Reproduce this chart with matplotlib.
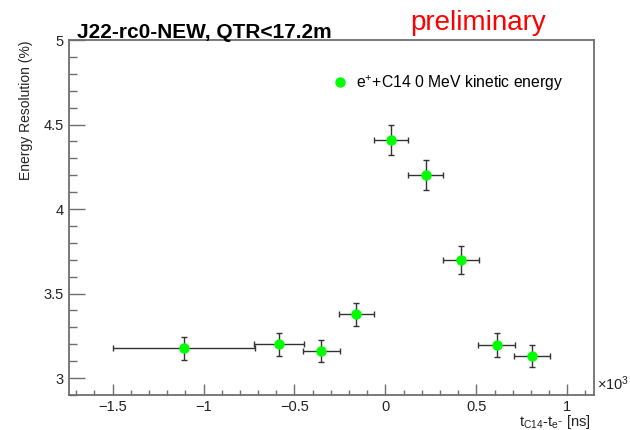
import matplotlib
matplotlib.use("Agg")
import matplotlib.pyplot as plt
from matplotlib.lines import Line2D
from matplotlib.ticker import MultipleLocator, FuncFormatter

plt.rcParams['font.family'] = ['Liberation Sans', 'DejaVu Sans']
plt.rcParams['mathtext.fontset'] = 'custom'
plt.rcParams['mathtext.rm'] = 'Liberation Sans'
plt.rcParams['mathtext.it'] = 'Liberation Sans:italic'
plt.rcParams['mathtext.bf'] = 'Liberation Sans:bold'

# time difference bins (x10^3 ns) and energy resolution (%)
t_diff = [-1.108, -0.585, -0.352, -0.161, 0.029, 0.221, 0.415, 0.611, 0.807]
t_err = [0.39, 0.135, 0.10, 0.097, 0.094, 0.098, 0.10, 0.10, 0.10]
resolution = [3.176, 3.199, 3.160, 3.377, 4.408, 4.201, 3.698, 3.193, 3.130]
res_err = [0.067, 0.069, 0.066, 0.070, 0.090, 0.089, 0.082, 0.071, 0.066]

title = "J22-rc0-NEW, QTR<17.2m"
legend_label = "e$^{+}$+C14 0 MeV kinetic energy"

fig = plt.figure(figsize=(6.3, 4.3), dpi=100)
ax = fig.add_axes([69 / 630, 1 - 395 / 430, 525 / 630, 355 / 430])

ax.errorbar(t_diff, resolution, xerr=t_err, yerr=res_err, fmt='none',
            ecolor='#333333', elinewidth=1.0, capsize=2.2, capthick=1.0, zorder=2)
ax.plot(t_diff, resolution, 'o', color='#00ff00', markersize=6.5, zorder=3)

ax.set_xlim(-1.74, 1.147)
ax.set_ylim(2.9, 5.0)

frame_col = '#6e6e6e'
for side in ['left', 'bottom', 'right', 'top']:
    ax.spines[side].set_color(frame_col)
    ax.spines[side].set_linewidth(1.3)

fmt = FuncFormatter(lambda v, p: ('%g' % v).replace('-', '\u2212'))
ax.xaxis.set_major_locator(MultipleLocator(0.5))
ax.xaxis.set_minor_locator(MultipleLocator(0.1))
ax.yaxis.set_major_locator(MultipleLocator(0.5))
ax.yaxis.set_minor_locator(MultipleLocator(0.1))
ax.xaxis.set_major_formatter(fmt)
ax.yaxis.set_major_formatter(fmt)

ax.tick_params(axis='x', which='major', direction='in', length=7.6, width=1.0,
               color=frame_col, labelsize=10.5, labelcolor='#222222', pad=3.5)
ax.tick_params(axis='x', which='minor', direction='in', length=3.8, width=1.0, color=frame_col)
ax.tick_params(axis='y', which='major', direction='in', length=11.3, width=1.0,
               color=frame_col, labelsize=10.5, labelcolor='#222222', pad=4)
ax.tick_params(axis='y', which='minor', direction='in', length=5.6, width=1.0, color=frame_col)

ax.set_ylabel("Energy Resolution (%)", fontsize=10, color='#222222', loc='top', labelpad=7)

fig.text(591 / 630, 1 - 426 / 430, "t$_{\\mathregular{C14}}$-t$_{\\mathregular{e^{-}}}$ [ns]",
         fontsize=10.5, color='#222222', ha='right', va='baseline')
fig.text(597 / 630, 1 - 390 / 430, "\u00d710$^{3}$", fontsize=10.5, color='#222222',
         ha='left', va='baseline')

proxy = Line2D([], [], linestyle='none', marker='o', color='#00ff00', markersize=6.5)
ax.legend([proxy], [legend_label], loc='center left', bbox_to_anchor=(0.474, 0.879),
          frameon=False, fontsize=11.3, handlelength=1.0, handletextpad=0.5)

fig.text(77 / 630, 1 - 38 / 430, title, fontsize=15, fontweight='bold',
         ha='left', va='baseline')
fig.text(410 / 630, 1 - 30 / 430, "preliminary", fontsize=20, color='red',
         ha='left', va='baseline')

fig.savefig("out.png", dpi=100)
